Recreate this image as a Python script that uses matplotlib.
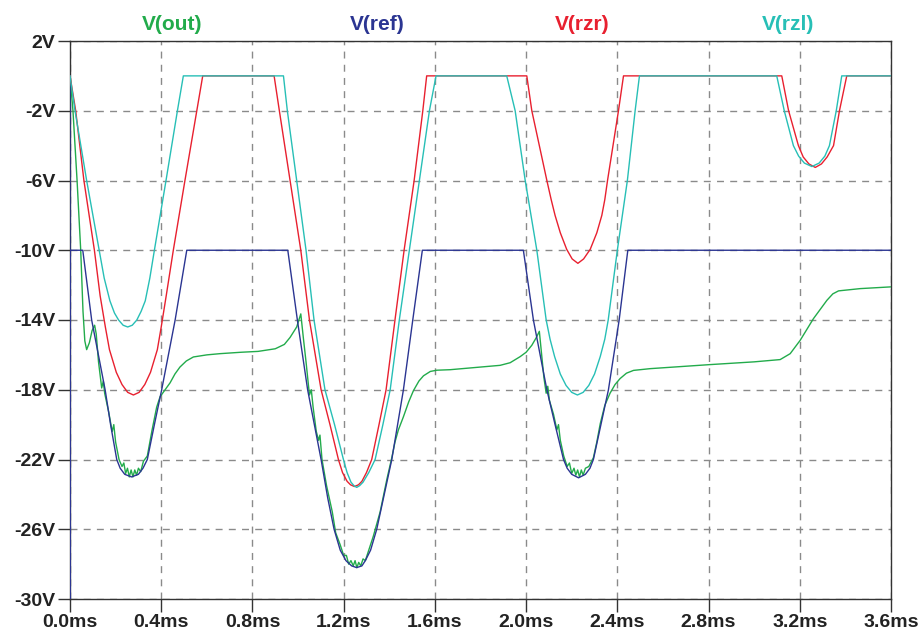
"""
Transient simulation traces: V(out), V(ref), V(rzr), V(rzl) over 3.6 ms.
"""
import matplotlib
matplotlib.use("Agg")
import matplotlib.pyplot as plt

# time in ms, voltage in V
out_t = [0, 0.013, 0.031, 0.047, 0.057, 0.065, 0.073, 0.085, 0.097, 0.108, 0.115, 0.125,
         0.139, 0.146, 0.152, 0.17, 0.185, 0.192, 0.2, 0.215, 0.228, 0.236, 0.244, 0.252,
         0.26, 0.268, 0.276, 0.284, 0.292, 0.3, 0.31, 0.322, 0.339, 0.36, 0.38, 0.395,
         0.417, 0.439, 0.46, 0.482, 0.51, 0.541, 0.6, 0.658, 0.75, 0.825, 0.9, 0.94, 0.965,
         0.994, 1.012,
         1.023, 1.035, 1.05, 1.058, 1.066, 1.08, 1.09, 1.096, 1.105, 1.125, 1.15, 1.165,
         1.185, 1.2, 1.212, 1.222, 1.232, 1.242, 1.25, 1.258, 1.266, 1.275, 1.285, 1.295,
         1.31, 1.33, 1.36, 1.39, 1.411, 1.425, 1.44, 1.462, 1.485, 1.506, 1.53, 1.55, 1.58,
         1.608, 1.667, 1.8, 1.886, 1.93, 1.974, 2.0, 2.025, 2.045, 2.058,
         2.068, 2.078, 2.088, 2.095, 2.102, 2.12, 2.135, 2.142, 2.15, 2.165, 2.18, 2.19,
         2.2, 2.21, 2.218, 2.226, 2.234, 2.242, 2.25, 2.26, 2.275, 2.295, 2.31, 2.325,
         2.345, 2.368, 2.39, 2.412, 2.44, 2.471, 2.544, 2.804, 3.0, 3.114, 3.158, 3.202,
         3.26, 3.319, 3.345, 3.37, 3.465, 3.6]
out_v = [0, -2, -6, -10, -13.5, -15.2, -15.7, -15.3, -14.6, -14.3, -14.8, -16.4,
         -17.9, -17.5, -18.2, -19.3, -20.4, -20.0, -21.0, -22.0, -22.4, -22.2, -22.8, -22.5,
         -23.0, -22.6, -23.0, -22.6, -22.9, -22.5, -22.7, -22.1, -21.8, -20.3, -19.0, -18.4,
         -18.0, -17.6, -17.1, -16.7, -16.35, -16.12, -16.0, -15.93, -15.85, -15.8, -15.65, -15.4, -15.0,
         -14.4, -13.65,
         -15.0, -16.4, -18.3, -18.0, -19.0, -20.4, -20.9, -20.6, -22.0, -23.5, -25.0, -26.2,
         -26.9, -27.5, -27.5, -28.0, -27.8, -28.1, -27.8, -28.2, -27.9, -28.1, -27.7, -27.8,
         -27.2, -26.4, -25.0, -23.1, -21.9, -21.0, -20.3, -19.55, -18.7, -18.05, -17.5, -17.2, -16.95,
         -16.88, -16.85, -16.7, -16.6, -16.45, -16.1, -15.85, -15.45, -15.0, -14.65,
         -16.0, -17.3, -18.2, -17.8, -18.6, -19.4, -20.3, -20.0, -20.9, -21.8, -22.4, -22.2,
         -22.8, -22.5, -22.9, -22.6, -23.0, -22.6, -22.9, -22.5, -22.4, -21.9, -21.0, -19.95,
         -18.9, -18.2, -17.7, -17.36, -17.05, -16.89, -16.79, -16.56, -16.4, -16.27, -15.93, -15.16,
         -13.92, -12.87, -12.5, -12.33, -12.2, -12.1]

ref_t = [0, 0, 0, 0.056, 0.095, 0.154, 0.178, 0.205, 0.22, 0.24, 0.27, 0.30, 0.32, 0.339,
         0.37, 0.402, 0.461, 0.512,
         0.955, 0.997, 1.042, 1.101, 1.13, 1.158, 1.185, 1.21, 1.235, 1.257, 1.28, 1.295,
         1.318, 1.345, 1.378, 1.411, 1.462, 1.503, 1.545,
         1.988, 2.032, 2.091, 2.127, 2.164, 2.18, 2.2, 2.23, 2.26, 2.28, 2.295, 2.328,
         2.361, 2.408, 2.446, 3.6]
ref_v = [0, -30.5, -10, -10, -14, -18, -20, -22, -22.5, -22.85, -23.0, -22.85, -22.5, -22,
         -20, -18, -14, -10,
         -10, -14, -18, -22, -24.2, -26, -27.2, -27.8, -28.1, -28.2, -28.1, -27.8,
         -27.2, -26, -24.0, -22, -18, -14, -10,
         -10, -14, -18, -20, -22, -22.5, -22.85, -23.05, -22.85, -22.5, -22, -20,
         -18, -14, -10, -10]

rzr_t = [0, 0.025, 0.061, 0.107, 0.132, 0.155, 0.173, 0.203, 0.228, 0.253, 0.278, 0.303,
         0.328, 0.353, 0.383, 0.4, 0.422, 0.453, 0.504, 0.556, 0.582,
         0.895, 0.918, 0.965, 1.012, 1.05, 1.101, 1.14, 1.177, 1.195, 1.215, 1.23, 1.247,
         1.265, 1.28, 1.3, 1.323, 1.355, 1.386, 1.425, 1.465, 1.509, 1.547, 1.564,
         2.003, 2.025, 2.091, 2.11, 2.127, 2.15, 2.178, 2.202, 2.227, 2.252, 2.281, 2.31,
         2.332, 2.345, 2.357, 2.405, 2.427,
         3.121, 3.151, 3.194, 3.215, 3.24, 3.268, 3.295, 3.32, 3.348, 3.374, 3.406, 3.6]
rzr_v = [0, -2, -6, -10, -12.6, -14.4, -15.7, -17.0, -17.7, -18.15, -18.3, -18.15,
         -17.7, -17.0, -15.7, -14.4, -12.6, -10, -6, -2, 0,
         0, -2, -6, -10, -14, -18, -20, -22, -22.75, -23.25, -23.45, -23.55,
         -23.45, -23.25, -22.75, -22, -20, -18, -14, -10, -6, -2, 0,
         0, -2, -6, -7.1, -8.0, -9.0, -9.95, -10.5, -10.75, -10.5, -9.95, -9.0,
         -8.0, -7.1, -6, -2, 0,
         0, -2, -4, -4.65, -5.05, -5.25, -5.05, -4.65, -4, -2, 0, 0]

rzl_t = [0, 0.022, 0.073, 0.128, 0.15, 0.175, 0.195, 0.213, 0.233, 0.253, 0.273, 0.293,
         0.312, 0.33, 0.35, 0.37, 0.421, 0.471, 0.497,
         0.936, 0.953, 0.994, 1.035, 1.07, 1.118, 1.16, 1.199, 1.215, 1.232, 1.245, 1.257,
         1.27, 1.285, 1.31, 1.338, 1.372, 1.404, 1.444, 1.488, 1.532, 1.576, 1.605,
         1.915, 1.952, 1.996, 2.047, 2.088, 2.105, 2.125, 2.15, 2.175, 2.2, 2.225, 2.25,
         2.275, 2.3, 2.325, 2.345, 2.36, 2.40, 2.444, 2.478, 2.497,
         3.099, 3.132, 3.172, 3.195, 3.22, 3.253, 3.285, 3.31, 3.33, 3.36, 3.384, 3.6]
rzl_v = [0, -2, -6, -10, -11.6, -12.9, -13.6, -14.0, -14.3, -14.4, -14.3, -14.0,
         -13.5, -12.9, -11.6, -10, -6, -2, 0,
         0, -2, -6, -10, -14, -18, -20, -22, -22.75, -23.3, -23.5, -23.6,
         -23.5, -23.3, -22.75, -22, -20, -18, -14, -10, -6, -2, 0,
         0, -2, -6, -10, -14, -15.1, -16.1, -17.1, -17.75, -18.15, -18.3, -18.15,
         -17.75, -17.1, -16.1, -15.1, -14, -10, -6, -2, 0,
         0, -2, -4, -4.6, -5.0, -5.2, -5.0, -4.6, -4, -2, 0, 0]

x_ticks = [0.0, 0.4, 0.8, 1.2, 1.6, 2.0, 2.4, 2.8, 3.2, 3.6]
y_ticks = [2, -2, -6, -10, -14, -18, -22, -26, -30]

traces = [
    ("V(out)", out_t, out_v, "#22ab4b"),
    ("V(ref)", ref_t, ref_v, "#2b3592"),
    ("V(rzr)", rzr_t, rzr_v, "#e8202f"),
    ("V(rzl)", rzl_t, rzl_v, "#27bfb6"),
]
title_x = [172, 377, 582, 788]


def main():
    plt.rcParams["font.family"] = ["Liberation Sans", "DejaVu Sans"]
    fig = plt.figure(figsize=(9.21, 6.32), dpi=100)
    W, H = 921, 632
    left, right, top, bottom = 70, 891, 41, 599
    ax = fig.add_axes([left / W, 1 - bottom / H, (right - left) / W, (bottom - top) / H])

    for name, t, v, c in traces:
        ax.plot(t, v, color=c, linewidth=1.0, zorder=3)

    ax.set_xlim(0, 3.6)
    ax.set_ylim(-30, 2)
    ax.set_xticks(x_ticks)
    ax.set_xticklabels([f"{x:.1f}ms" for x in x_ticks])
    ax.set_yticks(y_ticks)
    ax.set_yticklabels([f"{y}V" for y in y_ticks])
    ax.tick_params(axis="both", direction="out", length=9, width=1.0, color="#333333",
                   labelsize=14, pad=1.5, labelcolor="#222222")
    for lbl in ax.get_xticklabels() + ax.get_yticklabels():
        lbl.set_fontweight("bold")

    ax.grid(True, color="#8a8a8a", linestyle=(0, (5, 4.5)), linewidth=1.0)
    ax.set_axisbelow(True)
    for s in ax.spines.values():
        s.set_color("#333333")
        s.set_linewidth(1.0)

    for (name, t, v, c), xp in zip(traces, title_x):
        fig.text(xp / W, 1 - 24 / H, name, color=c, fontsize=15, fontweight="bold",
                 ha="center", va="center")

    fig.savefig("out.png", dpi=100)


if __name__ == "__main__":
    main()
